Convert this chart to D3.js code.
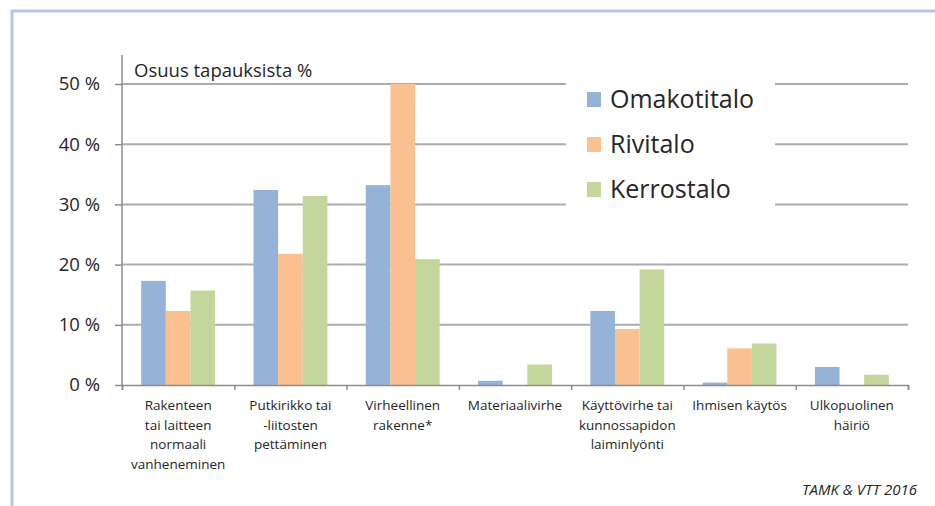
<!DOCTYPE html>
<html>
<head>
<meta charset="utf-8">
<script src="https://cdn.jsdelivr.net/npm/d3@7"></script>
<style>
    body { margin: 0; background: #fff; }
    text { font-family: "Open Sans", sans-serif; fill: #262626; }
</style>
</head>
<body>
<div id="chart"></div>
<script>
// luokat (rivit rivinvaihtoineen)
var categories = [
    ["Rakenteen", "tai laitteen", "normaali", "vanheneminen"],
    ["Putkirikko tai", "-liitosten", "pettäminen"],
    ["Virheellinen", "rakenne*"],
    ["Materiaalivirhe"],
    ["Käyttövirhe tai", "kunnossapidon", "laiminlyönti"],
    ["Ihmisen käytös"],
    ["Ulkopuolinen", "häiriö"]
];
var series = ["Omakotitalo", "Rivitalo", "Kerrostalo"];
var omakotitalo = [17.3, 32.4, 33.2, 0.7, 12.3, 0.4, 3.0];
var rivitalo = [12.3, 21.8, 50.0, 0, 9.3, 6.1, 0];
var kerrostalo = [15.7, 31.4, 20.9, 3.4, 19.2, 6.9, 1.7];
var yTicks = [0, 10, 20, 30, 40, 50];
var colors = ["#95b3d7", "#fac090", "#c3d69b"];

var dims = {
    width: 935,
    height: 506,
    left: 122,
    right: 908,
    top: 84,
    bottom: 385
};

var values = [omakotitalo, rivitalo, kerrostalo];

var svg = d3.select('#chart')
    .append('svg')
    .attr('width', dims.width)
    .attr('height', dims.height);

// kehys
svg.append('rect')
    .attr('x', 12)
    .attr('y', 11)
    .attr('width', 940)
    .attr('height', 520)
    .attr('fill', 'none')
    .attr('stroke', '#b4c8e3')
    .attr('stroke-width', 3);

var x0 = d3.scaleBand()
    .domain(d3.range(categories.length))
    .range([dims.left, dims.right]);

var x1 = d3.scaleBand()
    .domain(series)
    .range([0, x0.bandwidth()])
    .paddingOuter(0.78);

var xEdge = d3.scaleLinear()
    .domain([0, categories.length])
    .range([dims.left, dims.right]);

var y = d3.scaleLinear()
    .domain([0, 50])
    .range([dims.bottom, dims.top]);

// ruudukko
svg.append('g')
    .selectAll('line')
    .data(yTicks.slice(1))
    .enter()
    .append('line')
    .attr('x1', dims.left)
    .attr('x2', dims.right)
    .attr('y1', function(d){ return y(d); })
    .attr('y2', function(d){ return y(d); })
    .attr('stroke', '#acacac')
    .attr('stroke-width', 2);

// pylväät
var groups = svg.append('g')
    .selectAll('g')
    .data(series)
    .enter()
    .append('g')
    .attr('fill', function(d, i){ return colors[i]; });

groups.selectAll('rect')
    .data(function(d, i){
        return values[i].map(function(v, j){ return {s: d, c: j, v: v}; });
    })
    .enter()
    .append('rect')
    .attr('x', function(d){ return x0(d.c) + x1(d.s); })
    .attr('width', x1.bandwidth())
    .attr('y', function(d){ return y(d.v); })
    .attr('height', function(d){ return y(0) - y(d.v); });

// legendan tausta peittää ruudukon
svg.append('rect')
    .attr('x', 566)
    .attr('y', 70)
    .attr('width', 209)
    .attr('height', 146)
    .attr('fill', '#fff');

// y-akseli
var yAxis = svg.append('g')
    .attr('transform', 'translate(' + dims.left + ',0)')
    .call(d3.axisLeft(y)
        .tickValues(yTicks)
        .tickSize(7)
        .tickPadding(15)
        .tickFormat(function(d){ return d + ' %'; }));
yAxis.select('.domain')
    .attr('d', 'M0,55V' + dims.bottom)
    .attr('stroke', '#8c8c8c')
    .attr('stroke-width', 1.5);
yAxis.selectAll('.tick line')
    .attr('stroke', '#8c8c8c')
    .attr('stroke-width', 1.5);
yAxis.selectAll('.tick text')
    .style('font-family', '"Open Sans", sans-serif')
    .style('font-size', '18.5px')
    .attr('fill', '#262626');

// x-akseli
var xAxis = svg.append('g')
    .attr('transform', 'translate(0,' + dims.bottom + ')')
    .call(d3.axisBottom(xEdge)
        .ticks(categories.length)
        .tickSize(5)
        .tickSizeOuter(5)
        .tickFormat(''));
xAxis.select('.domain')
    .attr('stroke', '#8c8c8c')
    .attr('stroke-width', 1.5);
xAxis.selectAll('.tick line')
    .attr('stroke', '#8c8c8c')
    .attr('stroke-width', 1.5);

svg.append('g')
    .selectAll('text')
    .data(categories)
    .enter()
    .append('text')
    .attr('text-anchor', 'middle')
    .attr('font-size', '13.5px')
    .attr('transform', function(d, i){
        return 'translate(' + (x0(i) + x0.bandwidth() / 2) + ',410)';
    })
    .selectAll('tspan')
    .data(function(d){ return d; })
    .enter()
    .append('tspan')
    .attr('x', 0)
    .attr('y', function(d, i){ return i * 19.5; })
    .text(function(d){ return d; });

// otsikko
svg.append('text')
    .attr('x', 134)
    .attr('y', 77)
    .attr('font-size', '18.5px')
    .text('Osuus tapauksista %');

// selite
var legend = svg.append('g')
    .selectAll('g')
    .data(series)
    .enter()
    .append('g')
    .attr('transform', function(d, i){
        return 'translate(587,' + (92 + i * 45) + ')';
    });
legend.append('rect')
    .attr('width', 14)
    .attr('height', 15)
    .attr('fill', function(d, i){ return colors[i]; });
legend.append('text')
    .attr('x', 23)
    .attr('y', 16)
    .attr('font-size', '25px')
    .text(function(d){ return d; });

// lähde
svg.append('text')
    .attr('x', 917)
    .attr('y', 495)
    .attr('text-anchor', 'end')
    .attr('font-size', '15px')
    .attr('font-style', 'italic')
    .attr('fill', '#333')
    .text('TAMK & VTT 2016');
</script>
</body>
</html>
